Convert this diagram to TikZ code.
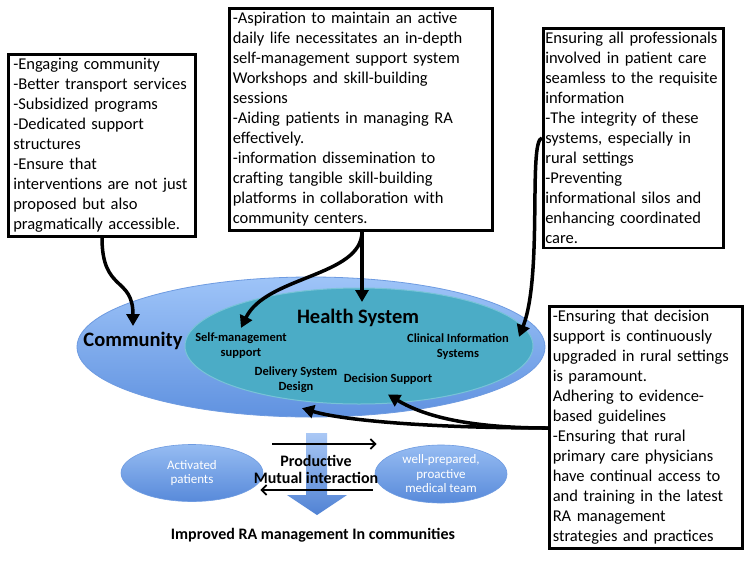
\documentclass[tikz,border=0pt]{standalone}
\usepackage{fontspec}
\setmainfont{Carlito}
\usetikzlibrary{arrows.meta,shapes.geometric,calc}
\definecolor{outerTop}{RGB}{158,196,248}
\definecolor{outerBot}{RGB}{96,146,224}
\definecolor{outerLine}{RGB}{110,155,225}
\definecolor{tealFill}{RGB}{75,172,198}
\definecolor{tealLine}{RGB}{120,195,215}
\definecolor{smallTop}{RGB}{150,188,242}
\definecolor{smallBot}{RGB}{88,138,218}
\definecolor{arrTop}{RGB}{170,200,245}
\definecolor{arrBot}{RGB}{80,130,212}
\begin{document}
\begin{tikzpicture}[x=1pt,y=-1pt,
  txtbox/.style={draw=black,line width=2.5pt,fill=white,align=left,anchor=north west,
    inner xsep=3.5pt,inner ysep=4pt,font=\fontsize{16.5}{20}\selectfont,
    execute at begin node={\hyphenpenalty=10000\exhyphenpenalty=10000}},
  conn/.style={line width=3.5pt,-{Triangle[length=12pt,width=13pt]}},
  thinarr/.style={line width=1.8pt,-{Straight Barb[length=5pt,width=10pt]}},
  biglbl/.style={font=\bfseries\fontsize{20.5}{24}\selectfont,inner sep=0pt},
  smlbl/.style={font=\bfseries\fontsize{12.5}{15}\selectfont,align=center,inner sep=0pt},
  whitelbl/.style={font=\fontsize{13}{14.5}\selectfont,text=white,align=center,inner sep=0pt},
  boldtxt/.style={font=\bfseries\fontsize{16}{17}\selectfont,align=center,inner sep=0pt}]
\useasboundingbox[fill=white] (0,0) rectangle (750,563);

% ellipses
\node[ellipse,draw=outerLine,line width=0.8pt,top color=outerTop,bottom color=outerBot,
  minimum width=468pt,minimum height=140pt,inner sep=0pt] (community) at (311,347) {};
\node[ellipse,draw=tealLine,line width=1pt,fill=tealFill,
  minimum width=348pt,minimum height=116pt,inner sep=0pt] (health) at (359,346) {};

\node[biglbl] (commlbl) at (133,341) {Community};
\node[biglbl] (hslbl) at (358,318) {Health System};
\node[smlbl] (smslbl) at (241,346) {Self-management\\support};
\node[smlbl] (cislbl) at (458,347) {Clinical Information\\Systems};
\node[smlbl] (dsdlbl) at (296,380) {Delivery System\\Design};
\node[smlbl] (decslbl) at (388,379) {Decision Support};

% text boxes
\node[txtbox,inner xsep=5pt,text width=177pt] (b1) at (7,53) {-Engaging community\\-Better transport services\\-Subsidized programs\\-Dedicated support\\structures\\-Ensure that\\interventions are not just\\proposed but also\\pragmatically accessible.};
\node[txtbox,text width=256pt] (b2) at (228,7) {-Aspiration to maintain an active\\daily life necessitates an in-depth\\self-management support system\\Workshops and skill-building\\sessions\\-Aiding patients in managing RA\\effectively.\\-information dissemination to\\crafting tangible skill-building\\platforms in collaboration with\\community centers.};
\node[txtbox,inner xsep=2pt,text width=176pt] (b3) at (542,27) {Ensuring all professionals\\involved in patient care\\seamless to the requisite\\information\\-The integrity of these\\systems, especially in\\rural settings\\-Preventing\\informational silos and\\enhancing coordinated\\care.};
\node[txtbox,text width=186pt] (b4) at (548,305) {-Ensuring that decision\\support is continuously\\upgraded in rural settings\\is paramount.\\Adhering to evidence-\\based guidelines\\-Ensuring that rural\\primary care physicians\\have continual access to\\and training in the latest\\RA management\\strategies and practices};

% connectors
\coordinate (s1) at ($(b1.south west)+(95,0)$);
\coordinate (t1) at ($(commlbl.north)+(0,-6)$);
\draw[conn] (s1) .. controls ($(s1)+(0,55)$) and ($(t1)+(0,-50)$) .. (t1);

\coordinate (s2) at ($(b2.south west)+(134,0)$);
\draw[conn] (s2) -- ($(s2|-hslbl.north)+(0,-7)$);
\coordinate (t3) at ($(smslbl.north)+(0,-5)$);
\draw[conn] (s2) .. controls ($(s2)+(0,45)$) and ($(t3)+(25,-52)$) .. (t3);

\coordinate (s4) at ($(b3.north west)+(0,111)$);
\coordinate (t4) at ($(cislbl.north east)+(10,3)$);
\draw[conn] (s4) .. controls ($(s4)+(-14,2)$) and ($(t4)+(24,-62)$) .. (t4);

\coordinate (s5) at ($(b4.north west)+(0,123)$);
\coordinate (t5) at ($(dsdlbl.south)+(6,15)$);
\coordinate (t6) at ($(decslbl.south)+(0,10)$);
\draw[conn] (s5) .. controls ($(s5)+(-120,0)$) and ($(t5)+(40,12)$) .. (t5);
\draw[conn] (s5) .. controls ($(s5)+(-90,0)$) and ($(t6)+(30,18)$) .. (t6);

% lower part
\shade[top color=arrTop,bottom color=arrBot,draw=none]
  (306,433) -- (327,433) -- (327,495) -- (347,495) -- (317,515) -- (287,495) -- (306,495) -- cycle;

\node[ellipse,draw=outerLine,line width=0.6pt,top color=smallTop,bottom color=smallBot,
  minimum width=142pt,minimum height=57pt,inner sep=0pt] (pat) at (192,473) {};
\node[whitelbl] (patlbl) at (pat) {Activated\\patients};
\node[ellipse,draw=outerLine,line width=0.6pt,top color=smallTop,bottom color=smallBot,
  minimum width=132pt,minimum height=58pt,inner sep=0pt] (team) at (441,474) {};
\node[whitelbl] (teamlbl) at (team) {well-prepared,\\proactive\\medical team};

\draw[thinarr] ($(pat.east)+(9,-29)$) -- ($(team.west)+(2,-30)$);
\draw[thinarr] ($(team.west)+(-2,16)$) -- ($(pat.east)+(-3,17)$);

\node[boldtxt] (pmi) at (316,469) {Productive\\Mutual interaction};
\node[boldtxt] (imp) at (313,535) {Improved RA management In communities};
\end{tikzpicture}
\end{document}
